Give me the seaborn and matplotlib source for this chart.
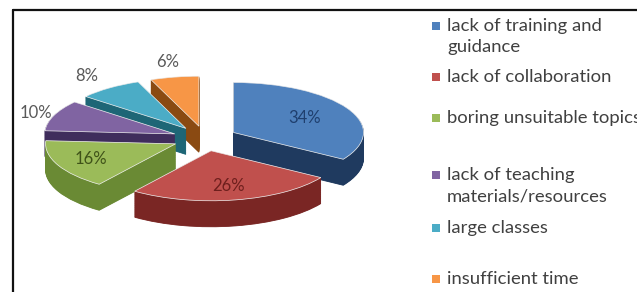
import numpy as np
import matplotlib
matplotlib.use("Agg")
import matplotlib.pyplot as plt
import seaborn as sns
from matplotlib.lines import Line2D
from matplotlib.patches import Rectangle

# ---- data ----
categories = ["lack of training and\nguidance", "lack of collaboration",
              "boring unsuitable topics", "lack of teaching\nmaterials/resources",
              "large classes", "insufficient time"]
values = [34, 26, 16, 10, 8, 6]
pct_labels = ["34%", "26%", "16%", "10%", "8%", "6%"]

# ---- styles ----
top_colors = sns.color_palette(["#4F81BD", "#C0504D", "#9BBB59", "#8064A2", "#4BACC6", "#F79646"])
side_colors = sns.color_palette(["#1F3A5F", "#7A2624", "#6A8A34", "#3F2D5C", "#1E6676", "#8A4A12"])
label_colors = ["#1F3F6E", "#6E1F1D", "#3F5219", "#595959", "#595959", "#595959"]
label_radius = [0.62, 0.72, 0.72, 1.15, 1.3, 1.3]

sns.set_theme(style="white")
plt.rcParams['font.family'] = ['Lato', 'DejaVu Sans']

W, H = 637, 292
fig = plt.figure(figsize=(W / 100, H / 100), dpi=100)
fig.patch.set_facecolor("white")
ax = fig.add_axes([0, 0, 1, 1])

# pie geometry in pixels
cx, cy = 205, 138.5
rx, ry = 130, 50
depth = 26
explode = [0.25] * len(values)

n_layers = 40
for k in range(n_layers, 0, -1):
    off = -depth / ry * k / n_layers
    ax.pie(values, colors=side_colors, startangle=90, counterclock=False,
           explode=explode, center=(0, off),
           wedgeprops=dict(linewidth=0.6, edgecolor=None))
    for w in ax.patches[-len(values):]:
        w.set_edgecolor(w.get_facecolor())

wedges, _ = ax.pie(values, colors=top_colors, startangle=90, counterclock=False,
                   explode=explode, center=(0, 0),
                   wedgeprops=dict(linewidth=0.5, edgecolor="#f2f2f2"))

for i, w in enumerate(wedges):
    mid = np.deg2rad((w.theta1 + w.theta2) / 2)
    c = w.center
    r = label_radius[i]
    ax.text(c[0] + r * np.cos(mid), c[1] + r * np.sin(mid), pct_labels[i],
            ha="center", va="center", fontsize=12, color=label_colors[i])

ax.set_aspect("auto")
ax.set_xlim((0 - cx) / rx, (W - cx) / rx)
ax.set_ylim((cy - H) / ry, cy / ry)
ax.axis("off")

# frame
lx, ty = 13, 10
fig.add_artist(Line2D([lx / W, lx / W], [0, 1 - ty / H], transform=fig.transFigure,
                      color="#111111", linewidth=1.6))
fig.add_artist(Line2D([lx / W, 1], [1 - ty / H, 1 - ty / H], transform=fig.transFigure,
                      color="#111111", linewidth=1.6))

# legend (manual, Excel-like spacing)
leg_y = [26, 77, 118, 175, 228, 279]
line_gap = 21
mx, msz, tx = 432, 8, 447
for i, lab in enumerate(categories):
    y0 = leg_y[i]
    fig.add_artist(Rectangle((mx / W, 1 - (y0 + msz / 2) / H), msz / W, msz / H,
                             transform=fig.transFigure, facecolor=top_colors[i],
                             edgecolor="none"))
    for j, line in enumerate(lab.split("\n")):
        fig.text(tx / W, 1 - (y0 + j * line_gap) / H, line, ha="left", va="center",
                 fontsize=13.3, color="#404040")

fig.savefig("out.png", dpi=100)
